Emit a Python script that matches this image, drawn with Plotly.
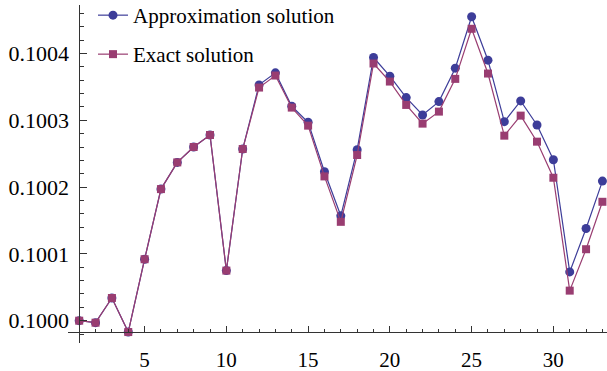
import plotly.graph_objects as go

x_vals = list(range(1, 34))
approx = [0.100000, 0.099997, 0.100034, 0.099983, 0.100092, 0.100197, 0.100237, 0.100260,
          0.100278, 0.100075, 0.100257, 0.100353, 0.100371, 0.100321, 0.100297, 0.100223,
          0.100157, 0.100256, 0.100394, 0.100366, 0.100334, 0.100308, 0.100328, 0.100378,
          0.100455, 0.100390, 0.100298, 0.100329, 0.100293, 0.100241, 0.100073, 0.100138,
          0.100209]
exact = [0.100000, 0.099997, 0.100034, 0.099983, 0.100092, 0.100197, 0.100237, 0.100260,
         0.100278, 0.100075, 0.100257, 0.100349, 0.100367, 0.100319, 0.100292, 0.100216,
         0.100148, 0.100248, 0.100385, 0.100358, 0.100323, 0.100295, 0.100313, 0.100362,
         0.100437, 0.100370, 0.100277, 0.100307, 0.100268, 0.100214, 0.100045, 0.100107,
         0.100178]

x_tick_vals = [5, 10, 15, 20, 25, 30]
x_tick_text = ["5", "10", "15", "20", "25", "30"]
y_tick_vals = [0.1000, 0.1001, 0.1002, 0.1003, 0.1004]
y_tick_text = ["0.1000", "0.1001", "0.1002", "0.1003", "0.1004"]

BLUE = "#3d3d99"
MAG = "#993d71"
AX = "#333333"
FONT = "Liberation Serif"

W, H = 607, 371
ML, MR, MT, MB = 68, 0, 5, 28
PW, PH = W - ML - MR, H - MT - MB

x_range = [0.315, 33.28]
y_range = [0.0999666, 0.1004726]

# axis crossing positions (paper fractions)
x_axis_pos = (H - MB - 332.3) / PH
y_axis_pos = (79.3 - ML) / PW


def px_to_paper_y(py):
    return 1 - (py - MT) / PH


def px_to_paper_x(px):
    return (px - ML) / PW


fig = go.Figure()
fig.add_trace(go.Scatter(
    x=x_vals, y=approx, mode="lines+markers", name="Approximation solution",
    line=dict(color=BLUE, width=1.2),
    marker=dict(symbol="circle", size=9, color=BLUE),
    legend="legend"))
fig.add_trace(go.Scatter(
    x=x_vals, y=exact, mode="lines+markers", name="Exact solution",
    line=dict(color=MAG, width=1.2),
    marker=dict(symbol="square", size=8, color=MAG),
    legend="legend2"))

minor_x = [v for v in range(1, 34) if v not in x_tick_vals]
minor_y = []
k = -1
while True:
    v = round(0.1 + k * 0.00002, 6)
    if v > y_range[1]:
        break
    if all(abs(v - t) > 1e-9 for t in y_tick_vals):
        minor_y.append(v)
    k += 1

fig.update_layout(
    width=W, height=H,
    margin=dict(l=ML, r=MR, t=MT, b=MB, pad=0, autoexpand=False),
    paper_bgcolor="white", plot_bgcolor="white",
    font=dict(family=FONT, size=21, color="black"),
    xaxis=dict(
        range=x_range, showgrid=False, zeroline=False, automargin=False,
        showline=True, linecolor=AX, linewidth=1,
        anchor="free", position=x_axis_pos,
        tickmode="array", tickvals=x_tick_vals, ticktext=x_tick_text,
        ticks="inside", ticklen=6, tickwidth=1, tickcolor=AX,
        ticklabelstandoff=8,
        tickfont=dict(family=FONT, size=21, color="black"),
        minor=dict(tickmode="array", tickvals=minor_x, ticks="inside",
                   ticklen=3, tickwidth=1, tickcolor=AX, showgrid=False),
    ),
    yaxis=dict(
        range=y_range, showgrid=False, zeroline=False, automargin=False,
        showline=True, linecolor=AX, linewidth=1,
        anchor="free", position=y_axis_pos,
        tickmode="array", tickvals=y_tick_vals, ticktext=y_tick_text,
        ticks="inside", ticklen=7, tickwidth=1, tickcolor=AX,
        ticklabelstandoff=6,
        tickfont=dict(family=FONT, size=22, color="black"),
        minor=dict(tickmode="array", tickvals=minor_y, ticks="inside",
                   ticklen=4, tickwidth=1, tickcolor=AX, showgrid=False),
    ),
    legend=dict(
        xref="paper", yref="paper",
        x=px_to_paper_x(93), y=px_to_paper_y(-5), xanchor="left", yanchor="top",
        bgcolor="rgba(0,0,0,0)", borderwidth=0,
        font=dict(family=FONT, size=21, color="black"),
        itemwidth=30,
    ),
    legend2=dict(
        xref="paper", yref="paper",
        x=px_to_paper_x(93), y=px_to_paper_y(34), xanchor="left", yanchor="top",
        bgcolor="rgba(0,0,0,0)", borderwidth=0,
        font=dict(family=FONT, size=21, color="black"),
        itemwidth=30,
    ),
    showlegend=True,
)

fig.write_html("out.html")
